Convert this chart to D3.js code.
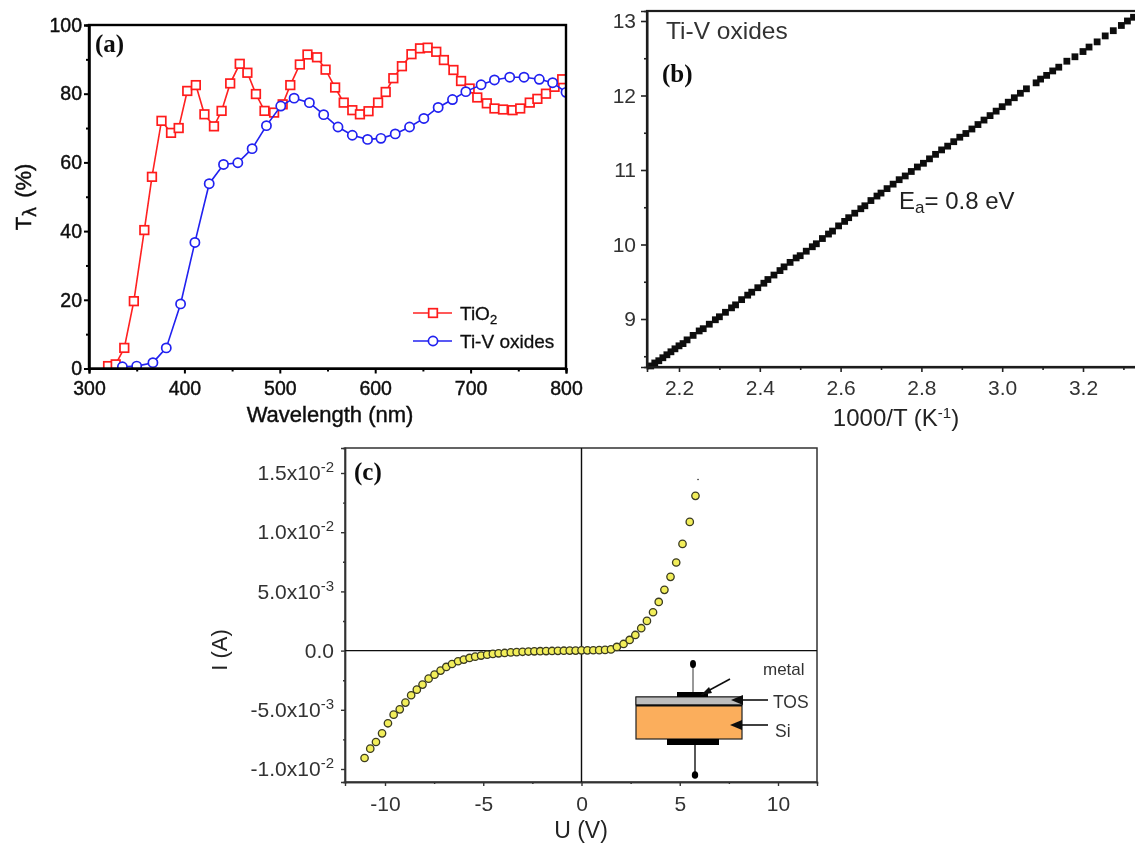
<!DOCTYPE html>
<html>
<head>
<meta charset="utf-8">
<script src="https://cdn.jsdelivr.net/npm/d3@7"></script>
<style>
  html, body { margin: 0; padding: 0; background: #fff; overflow: hidden; }
  svg { display: block; }
  text { font-family: "Liberation Sans", Arial, sans-serif; }
  .lab { font-family: "Liberation Serif", serif; font-weight: bold; font-size: 25px; fill: #111; }
</style>
</head>
<body>
<div id="fig"></div>
<script>
// panel (a) transmittance
var tio2Wave = [320,328,337,347,358,366,376,386,394,403,412,421,431,439,448,458,466,475,484,494,503,511,521,529,539,548,558,567,576,584,593,603,611,619,628,638,647,655,664,672,682,690,699,707,717,725,734,744,752,762,770,779,788,796];
var tio2T = [0.7,1.2,6,19.6,40.3,55.8,72.1,68.6,70,80.8,82.5,74,70.5,75,83,88.7,86.1,79.9,75,74.5,76.9,82.5,88.5,91.4,90.6,87,81.8,77.4,75.2,74,74.9,77.4,80.5,84.5,88,91.5,93.2,93.4,92.2,89.8,86.9,83.7,81.5,78.9,77.2,75.7,75.4,75.2,75.7,77.4,78.5,80,82,84.2];
var tiVWave = [335,350,367,381,396,411,426,441,456,471,486,501,515,531,546,561,576,592,606,621,636,651,666,681,695,711,725,741,756,772,786,800];
var tiVT = [0.5,0.7,1.7,6,18.8,36.7,53.8,59.4,59.9,64,70.7,76.4,78.7,77.4,73.9,70.3,67.9,66.7,67,68.3,70.3,72.8,76,78.3,80.6,82.6,84,84.8,84.8,84.2,83.2,80.4];
var aXTicks = [300,400,500,600,700,800];
var aXMinor = [350,450,550,650,750];
var aYTicks = [0,20,40,60,80,100];
var aYMinor = [10,30,50,70,90];

// panel (b) arrhenius
var arrX = [2.13,2.14,2.15,2.16,2.17,2.18,2.19,2.20,2.21,2.22,2.235,2.25,2.26,2.275,2.29,2.30,2.315,2.33,2.34,2.355,2.37,2.38,2.395,2.41,2.42,2.435,2.45,2.46,2.475,2.49,2.50,2.515,2.53,2.54,2.555,2.57,2.58,2.595,2.61,2.62,2.635,2.65,2.66,2.675,2.69,2.70,2.715,2.73,2.745,2.76,2.775,2.79,2.805,2.82,2.835,2.85,2.865,2.88,2.895,2.91,2.925,2.94,2.955,2.97,2.985,3.0,3.015,3.03,3.045,3.06,3.084,3.095,3.11,3.125,3.14,3.16,3.18,3.20,3.215,3.235,3.255,3.275,3.295,3.31,3.325];
var arrY = [8.37,8.41,8.44,8.48,8.52,8.56,8.60,8.64,8.67,8.72,8.78,8.84,8.87,8.93,8.99,9.03,9.09,9.15,9.19,9.26,9.32,9.36,9.42,9.48,9.53,9.59,9.65,9.70,9.76,9.82,9.85,9.91,9.97,10.01,10.08,10.14,10.18,10.25,10.31,10.36,10.42,10.48,10.52,10.59,10.65,10.69,10.75,10.81,10.87,10.92,10.98,11.04,11.09,11.15,11.21,11.27,11.32,11.38,11.44,11.49,11.55,11.61,11.67,11.73,11.79,11.85,11.91,11.97,12.03,12.09,12.17,12.22,12.27,12.33,12.38,12.46,12.52,12.59,12.65,12.72,12.80,12.87,12.94,13.0,13.05];
var bXTicks = [2.2,2.4,2.6,2.8,3.0,3.2];
var bXMinor = [2.3,2.5,2.7,2.9,3.1,3.3];
var bYTicks = [9,10,11,12,13];
var bYMinor = [8.5,9.5,10.5,11.5,12.5];

// panel (c) I-V
var ivU = [-11.04,-10.75,-10.46,-10.15,-9.85,-9.56,-9.25,-8.96,-8.67,-8.38,-8.09,-7.78,-7.48,-7.17,-6.88,-6.59,-6.28,-5.99,-5.70,-5.41,-5.11,-4.80,-4.51,-4.22,-3.91,-3.6,-3.3,-3.0,-2.7,-2.4,-2.1,-1.8,-1.5,-1.2,-0.9,-0.6,-0.3,0,0.3,0.6,0.9,1.2,1.5,1.8,2.14,2.45,2.74,3.04,3.33,3.64,3.93,4.22,4.53,4.82,5.14,5.51,5.80];
var ivI = [-9.07,-8.28,-7.72,-6.99,-6.14,-5.41,-4.96,-4.39,-3.77,-3.30,-2.87,-2.37,-2.03,-1.69,-1.38,-1.13,-0.90,-0.76,-0.62,-0.51,-0.42,-0.34,-0.28,-0.23,-0.20,-0.15,-0.13,-0.10,-0.08,-0.06,-0.05,-0.04,-0.03,-0.02,-0.01,0,0,0.02,0.02,0.03,0.04,0.06,0.10,0.31,0.56,0.90,1.32,1.89,2.51,3.24,4.11,5.13,6.23,7.44,9.01,10.87,13.07];
var cXTicks = [-10,-5,0,5,10];
var cXMinor = [-7.5,-2.5,2.5,7.5];
var cYTicks = [-10,-5,0,5,10,15];
var cYMinor = [-7.5,-2.5,2.5,7.5,12.5];
var cYMantissa = ["-1.0x10","-5.0x10","0.0","5.0x10","1.0x10","1.5x10"];
var cYExponent = ["-2","-3","","-3","-2","-2"];

var svg = d3.select("#fig").append("svg")
  .attr("width", 1135)
  .attr("height", 843);

// the source is a low-res scan, a little blur gets closer to it
var defs = svg.append("defs");
defs.append("filter").attr("id", "soft")
  .attr("x", "-5%").attr("y", "-5%").attr("width", "110%").attr("height", "110%")
  .append("feGaussianBlur").attr("stdDeviation", 0.55);

var root = svg.append("g").attr("filter", "url(#soft)");

function addClip(id, x, y) {
  defs.append("clipPath").attr("id", id).append("rect")
    .attr("x", x.range()[0])
    .attr("y", y.range()[1])
    .attr("width", x.range()[1] - x.range()[0])
    .attr("height", y.range()[0] - y.range()[1]);
}

// major and minor ticks through d3 axes, fmt draws the labels
function drawAxis(g, maker, scale, ticks, minor, fmt, major, small, width, color, pad) {
  var ax = g.append("g").attr("class", "major").call(maker(scale).tickValues(ticks).tickFormat(fmt).tickSize(major).tickPadding(pad));
  g.append("g").attr("class", "minor").call(maker(scale).tickValues(minor).tickFormat("").tickSize(small));
  g.selectAll("path.domain").attr("stroke", color).attr("stroke-width", width);
  g.selectAll(".tick line").attr("stroke", color).attr("stroke-width", width);
  return ax;
}

function frame(g, x, y, color, width) {
  g.append("rect")
    .attr("x", x.range()[0]).attr("y", y.range()[1])
    .attr("width", x.range()[1] - x.range()[0])
    .attr("height", y.range()[0] - y.range()[1])
    .attr("fill", "none").attr("stroke", color).attr("stroke-width", width);
}

function panelA() {
  var x = d3.scaleLinear().domain([300, 800]).range([89, 566]);
  var y = d3.scaleLinear().domain([0, 100]).range([368.5, 25]);
  addClip("clipA", x, y);
  var g = root.append("g");

  var line = d3.line().x(function(d) { return x(d[0]); }).y(function(d) { return y(d[1]); });
  var red = d3.zip(tio2Wave, tio2T);
  var blue = d3.zip(tiVWave, tiVT);
  var plot = g.append("g").attr("clip-path", "url(#clipA)");
  plot.append("path").datum(red).attr("d", line).attr("fill", "none").attr("stroke", "#ff2020").attr("stroke-width", 1.6);
  plot.selectAll("rect.sq").data(red).enter().append("rect").attr("class", "sq")
    .attr("x", function(d) { return x(d[0]) - 4.3; })
    .attr("y", function(d) { return y(d[1]) - 4.3; })
    .attr("width", 8.6).attr("height", 8.6)
    .attr("fill", "#fff").attr("stroke", "#ff1a1a").attr("stroke-width", 1.7);
  plot.append("path").datum(blue).attr("d", line).attr("fill", "none").attr("stroke", "#2020f0").attr("stroke-width", 1.6);
  plot.selectAll("circle").data(blue).enter().append("circle")
    .attr("cx", function(d) { return x(d[0]); })
    .attr("cy", function(d) { return y(d[1]); })
    .attr("r", 4.6)
    .attr("fill", "#fff").attr("stroke", "#2020f0").attr("stroke-width", 1.7);

  var bottom = g.append("g").attr("transform", "translate(0,368.5)");
  var left = g.append("g").attr("transform", "translate(89,0)");
  drawAxis(bottom, d3.axisBottom, x, aXTicks, aXMinor, d3.format("d"), 5, 3, 2, "#000", 8);
  drawAxis(left, d3.axisLeft, y, aYTicks, aYMinor, d3.format("d"), 5, 3, 2, "#000", 2);
  g.selectAll(".major text").attr("font-size", 19.5).attr("fill", "#111").attr("stroke", "#111").attr("stroke-width", 0.45);
  frame(g, x, y, "#000", 2.4);

  g.append("text").attr("x", 330).attr("y", 422).attr("text-anchor", "middle")
    .attr("font-size", 22).attr("fill", "#111").attr("stroke", "#111").attr("stroke-width", 0.45)
    .text("Wavelength (nm)");

  var yl = g.append("text").attr("transform", "translate(31,197) rotate(-90)").attr("text-anchor", "middle")
    .attr("font-size", 22).attr("fill", "#111").attr("stroke", "#111").attr("stroke-width", 0.45);
  yl.append("tspan").text("T");
  yl.append("tspan").attr("dy", 5).attr("font-size", 17).attr("font-family", "DejaVu Sans").text("λ");
  yl.append("tspan").attr("dy", -5).attr("dx", 9).text("(%)");

  g.append("text").attr("class", "lab").attr("x", 95).attr("y", 52).text("(a)");

  // legend
  var lg = g.append("g").attr("font-size", 19).attr("fill", "#111").attr("stroke", "#111").attr("stroke-width", 0.3);
  lg.append("line").attr("x1", 413).attr("x2", 452).attr("y1", 313).attr("y2", 313).attr("stroke", "#ff2020").attr("stroke-width", 1.6);
  lg.append("rect").attr("x", 428.7).attr("y", 308.7).attr("width", 8.6).attr("height", 8.6).attr("fill", "#fff").attr("stroke", "#ff1a1a").attr("stroke-width", 1.7);
  lg.append("line").attr("x1", 413).attr("x2", 452).attr("y1", 341).attr("y2", 341).attr("stroke", "#2020f0").attr("stroke-width", 1.6);
  lg.append("circle").attr("cx", 433).attr("cy", 341).attr("r", 4.6).attr("fill", "#fff").attr("stroke", "#2020f0").attr("stroke-width", 1.7);
  var t1 = lg.append("text").attr("x", 460).attr("y", 320);
  t1.append("tspan").text("TiO");
  t1.append("tspan").attr("dy", 4).attr("font-size", 13).text("2");
  lg.append("text").attr("x", 460).attr("y", 348).text("Ti-V oxides");
}

function panelB() {
  var x = d3.scaleLinear().domain([2.2, 3.2]).range([679, 1083]);
  var y = d3.scaleLinear().domain([9, 13]).range([319, 21]);
  var g = root.append("g");

  g.selectAll("rect.pt").data(d3.zip(arrX, arrY)).enter().append("rect").attr("class", "pt")
    .attr("x", function(d) { return x(d[0]) - 3.4; })
    .attr("y", function(d) { return y(d[1]) - 3.4; })
    .attr("width", 6.8).attr("height", 6.8)
    .attr("fill", "#111");

  var bx = x.copy().domain([x.invert(647), x.invert(1140)]).range([647, 1140]);
  var by = y.copy().domain([y.invert(367), y.invert(11)]).range([367, 11]);
  var bottom = g.append("g").attr("transform", "translate(0,367)");
  var left = g.append("g").attr("transform", "translate(647,0)");
  drawAxis(bottom, d3.axisBottom, bx, bXTicks, bXMinor, d3.format(".1f"), 5, 3, 1.6, "#222", 8);
  drawAxis(left, d3.axisLeft, by, bYTicks, bYMinor, d3.format("d"), 6, 3, 1.6, "#222", 5);
  g.selectAll(".major text").attr("font-size", 21).attr("fill", "#333");
  frame(g, bx, by, "#1a1a1a", 2.2);

  g.append("text").attr("x", 666).attr("y", 39).attr("font-size", 24.5).attr("fill", "#333").text("Ti-V oxides");
  g.append("text").attr("class", "lab").attr("x", 662).attr("y", 82).text("(b)");

  var ea = g.append("text").attr("x", 899).attr("y", 209).attr("font-size", 24).attr("fill", "#222");
  ea.append("tspan").text("E");
  ea.append("tspan").attr("dy", 4).attr("font-size", 17).text("a");
  ea.append("tspan").attr("dy", -4).text("= 0.8 eV");

  var xl = g.append("text").attr("x", 896).attr("y", 426).attr("text-anchor", "middle").attr("font-size", 24).attr("fill", "#222");
  xl.append("tspan").text("1000/T (K");
  xl.append("tspan").attr("dy", -8).attr("font-size", 15).text("-1");
  xl.append("tspan").attr("dy", 8).text(")");
}

function panelC() {
  var x = d3.scaleLinear().domain([-10, 10]).range([385, 778]);
  var y = d3.scaleLinear().domain([-10, 15]).range([769, 473]);
  var cx = x.copy().domain([x.invert(345), x.invert(817)]).range([345, 817]);
  var cy = y.copy().domain([y.invert(782), y.invert(448)]).range([782, 448]);
  var g = root.append("g");

  var bottom = g.append("g").attr("transform", "translate(0,782)");
  var left = g.append("g").attr("transform", "translate(345,0)");
  drawAxis(bottom, d3.axisBottom, cx, cXTicks, cXMinor, function(d) { return d; }, 4, 2, 1.4, "#333", 10);
  var ya = drawAxis(left, d3.axisLeft, cy, cYTicks, cYMinor, function(d) { return d; }, 4, 2, 1.4, "#333", 7);
  g.selectAll(".major text").attr("font-size", 21).attr("fill", "#333");
  ya.selectAll("text").each(function(d, i) {
    var t = d3.select(this);
    t.text(cYMantissa[i]);
    if (cYExponent[i]) {
      t.append("tspan").attr("dy", -8).attr("font-size", 15).text(cYExponent[i]);
    }
  });
  frame(g, cx, cy, "#333", 1.5);

  // zero lines
  g.append("line").attr("x1", x(0)).attr("x2", x(0)).attr("y1", 448).attr("y2", 782).attr("stroke", "#111").attr("stroke-width", 1.4);
  g.append("line").attr("x1", 345).attr("x2", 817).attr("y1", y(0)).attr("y2", y(0)).attr("stroke", "#111").attr("stroke-width", 1.4);

  g.selectAll("circle.iv").data(d3.zip(ivU, ivI)).enter().append("circle").attr("class", "iv")
    .attr("cx", function(d) { return x(d[0]); })
    .attr("cy", function(d) { return y(d[1]); })
    .attr("r", 3.7)
    .attr("fill", "#f2ee5a").attr("stroke", "#3a3a20").attr("stroke-width", 1.3);

  // stray speck over the last point
  g.append("circle").attr("cx", x(5.93)).attr("cy", y(14.45)).attr("r", 0.8).attr("fill", "#222");

  g.append("text").attr("class", "lab").attr("x", 354).attr("y", 480).text("(c)");

  g.append("text").attr("x", 581).attr("y", 838).attr("text-anchor", "middle").attr("font-size", 23).attr("fill", "#222").text("U (V)");
  g.append("text").attr("transform", "translate(227,650) rotate(-90)").attr("text-anchor", "middle").attr("font-size", 22).attr("fill", "#222").text("I (A)");

  drawInset(g);
}

// device sketch inside (c)
function drawInset(g) {
  var s = g.append("g");
  s.append("rect").attr("x", 636).attr("y", 697).attr("width", 106).attr("height", 42).attr("fill", "#fbae5c").attr("stroke", "#222").attr("stroke-width", 1.2);
  s.append("rect").attr("x", 636).attr("y", 697).attr("width", 106).attr("height", 8).attr("fill", "#bdbdbd").attr("stroke", "#222").attr("stroke-width", 1);
  s.append("line").attr("x1", 636).attr("x2", 742).attr("y1", 705.5).attr("y2", 705.5).attr("stroke", "#111").attr("stroke-width", 1.8);
  s.append("rect").attr("x", 677).attr("y", 692).attr("width", 31).attr("height", 5).attr("fill", "#000");
  s.append("rect").attr("x", 667).attr("y", 739).attr("width", 52).attr("height", 6).attr("fill", "#000");
  s.append("line").attr("x1", 693).attr("x2", 693).attr("y1", 664).attr("y2", 692).attr("stroke", "#555").attr("stroke-width", 1.2);
  s.append("line").attr("x1", 695).attr("x2", 695).attr("y1", 745).attr("y2", 775).attr("stroke", "#111").attr("stroke-width", 1.4);
  s.append("ellipse").attr("cx", 693).attr("cy", 664).attr("rx", 3).attr("ry", 4).attr("fill", "#000");
  s.append("ellipse").attr("cx", 695).attr("cy", 775).attr("rx", 3.2).attr("ry", 3.8).attr("fill", "#000");

  s.append("line").attr("x1", 730).attr("y1", 679).attr("x2", 706).attr("y2", 692).attr("stroke", "#111").attr("stroke-width", 1.6);
  s.append("path").attr("d", "M701,695 L709,687 L712,693 Z").attr("fill", "#111");
  s.append("line").attr("x1", 768).attr("y1", 700).attr("x2", 738).attr("y2", 700).attr("stroke", "#111").attr("stroke-width", 1.6);
  s.append("path").attr("d", "M731,700 L743,695 L743,705 Z").attr("fill", "#111");
  s.append("line").attr("x1", 768).attr("y1", 725).attr("x2", 738).attr("y2", 725).attr("stroke", "#111").attr("stroke-width", 1.6);
  s.append("path").attr("d", "M730,725 L742,720 L742,730 Z").attr("fill", "#111");

  s.append("text").attr("x", 763).attr("y", 675).attr("font-size", 17).attr("fill", "#333").text("metal");
  s.append("text").attr("x", 773).attr("y", 708).attr("font-size", 17.5).attr("fill", "#333").text("TOS");
  s.append("text").attr("x", 775).attr("y", 737).attr("font-size", 17.5).attr("fill", "#333").text("Si");
}

panelA();
panelB();
panelC();
</script>
</body>
</html>
